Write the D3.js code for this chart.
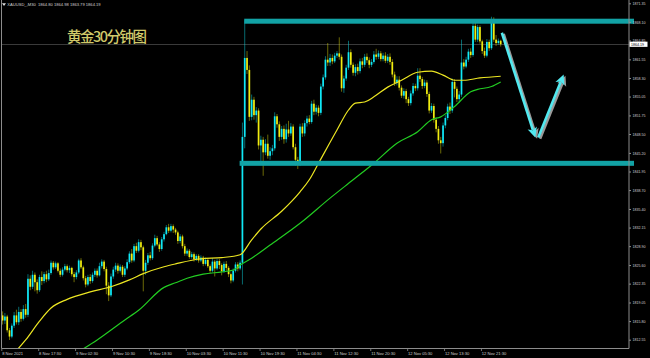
<!DOCTYPE html>
<html><head><meta charset="utf-8">
<script src="https://cdn.jsdelivr.net/npm/d3@7/dist/d3.min.js"></script>
<style>html,body{margin:0;padding:0;background:#000;overflow:hidden}</style>
</head><body><svg id="c" width="650" height="358"></svg>
<script>
// ---- data (XAUUSD M30) ----
const opens=[1816.8,1815.9,1816.6,1814.2,1813.1,1815.0,1816.8,1815.6,1817.4,1816.2,1817.9,1816.9,1823.2,1821.8,1823.9,1822.6,1821.2,1823.5,1822.8,1824.0,
1823.1,1824.2,1826.0,1825.2,1825.9,1824.6,1823.9,1824.8,1825.4,1824.7,1825.1,1824.0,1823.5,1824.3,1826.4,1825.2,1823.3,1822.2,1823.5,1822.8,
1823.9,1824.6,1823.8,1825.4,1826.2,1824.9,1822.0,1820.3,1823.6,1824.8,1825.5,1824.6,1825.3,1823.9,1825.0,1826.1,1827.6,1826.4,1828.9,1828.1,
1829.6,1828.7,1824.6,1826.0,1827.3,1826.8,1829.0,1830.3,1829.2,1828.4,1830.1,1831.0,1832.2,1831.6,1832.4,1831.8,1831.3,1829.8,1830.6,1828.9,
1827.6,1828.1,1827.0,1827.5,1826.6,1827.2,1826.4,1826.9,1825.8,1826.5,1825.4,1824.6,1826.2,1825.0,1826.3,1825.6,1824.5,1825.8,1825.1,1824.0,
1822.9,1824.6,1825.7,1825.0,1826.0,1848.0,1861.8,1859.7,1851.5,1854.5,1851.8,1852.6,1846.5,1847.5,1845.3,1846.8,1844.7,1845.5,1846.0,1851.6,
1850.2,1848.0,1849.4,1847.6,1849.3,1848.6,1849.8,1846.2,1844.0,1843.2,1849.8,1848.6,1850.4,1851.2,1850.6,1853.8,1852.4,1853.1,1852.2,1856.8,
1858.4,1861.5,1861.0,1861.8,1861.2,1862.2,1862.6,1862.0,1856.5,1858.2,1860.1,1862.8,1860.6,1859.2,1860.2,1859.5,1861.2,1860.6,1862.0,1861.4,
1860.6,1861.1,1862.4,1862.0,1862.6,1861.6,1862.2,1861.3,1862.0,1861.1,1858.9,1857.4,1858.0,1856.6,1855.2,1856.0,1854.6,1853.9,1855.6,1856.9,
1856.5,1858.7,1858.1,1856.9,1857.5,1855.5,1852.6,1853.4,1851.0,1849.4,1847.4,1846.9,1850.0,1851.3,1853.3,1852.6,1857.6,1856.4,1854.6,1855.4,
1861.0,1860.3,1861.5,1862.9,1862.3,1867.4,1865.0,1867.2,1864.7,1863.0,1862.2,1864.6,1863.5,1868.6,1865.0,1864.4,1864.80];
const highs=[1817.5,1817.2,1816.9,1814.6,1815.4,1817.4,1817.8,1818.3,1817.9,1818.6,1818.8,1824.0,1823.8,1824.6,1824.3,1823.1,1823.9,1824.5,1824.4,1824.6,
1824.8,1826.4,1826.3,1826.2,1826.1,1825.0,1825.2,1825.8,1825.7,1825.5,1825.3,1824.4,1824.7,1826.7,1826.8,1825.5,1823.7,1823.9,1824.0,1824.3,
1825.0,1825.0,1826.0,1826.6,1826.5,1825.3,1822.6,1824.1,1825.3,1826.0,1825.9,1825.7,1825.6,1825.4,1826.6,1828.0,1828.4,1829.3,1829.5,1830.1,
1830.0,1829.0,1826.5,1827.7,1827.9,1829.4,1830.9,1830.7,1829.6,1830.5,1831.4,1832.6,1832.8,1832.8,1832.7,1832.1,1831.6,1831.0,1830.9,1829.3,
1828.5,1828.4,1827.9,1827.8,1827.5,1827.5,1827.3,1827.2,1826.9,1826.8,1825.7,1826.8,1826.5,1826.7,1826.7,1825.9,1826.2,1826.3,1825.4,1824.3,
1825.0,1826.1,1826.1,1826.4,1850.5,1868.4,1863.0,1860.5,1855.4,1855.0,1853.2,1853.0,1848.2,1848.0,1847.6,1848.4,1846.2,1846.6,1852.3,1852.0,
1850.7,1849.9,1850.0,1850.3,1850.8,1850.4,1850.2,1846.8,1844.5,1850.3,1850.4,1850.9,1851.7,1851.8,1854.3,1854.5,1853.6,1853.5,1857.3,1858.9,
1862.1,1864.4,1862.5,1862.4,1862.7,1863.0,1865.4,1862.4,1858.7,1860.6,1864.8,1863.3,1861.0,1860.7,1860.8,1861.7,1861.8,1862.5,1862.6,1861.9,
1861.6,1863.0,1863.4,1863.1,1863.0,1862.7,1862.8,1862.5,1862.6,1861.6,1859.4,1858.6,1858.6,1857.0,1856.5,1856.4,1855.0,1856.1,1857.4,1857.3,
1860.0,1860.0,1858.5,1858.0,1857.9,1855.9,1853.9,1853.8,1851.4,1849.9,1848.0,1850.5,1851.8,1853.8,1854.0,1858.2,1858.1,1856.8,1856.0,1865.0,
1861.6,1862.0,1863.4,1863.5,1867.9,1868.5,1867.6,1867.5,1865.0,1863.6,1865.1,1865.0,1869.0,1868.9,1865.8,1865.2,1864.98];
const lows=[1815.2,1815.3,1813.8,1812.5,1812.8,1814.6,1815.2,1815.1,1815.7,1815.9,1816.4,1816.5,1821.2,1821.4,1821.0,1820.6,1820.9,1822.1,1822.4,1822.6,
1822.8,1823.9,1824.8,1824.9,1824.3,1823.5,1823.6,1824.5,1824.3,1824.2,1823.6,1822.6,1823.1,1824.0,1824.9,1822.9,1821.7,1821.9,1822.3,1822.5,
1823.5,1823.4,1823.6,1825.0,1824.5,1820.5,1819.3,1820.0,1823.2,1824.4,1824.1,1824.3,1823.5,1823.5,1824.7,1825.8,1826.0,1826.1,1827.7,1827.8,
1828.2,1821.0,1823.9,1825.6,1826.4,1826.5,1828.7,1828.9,1827.9,1828.1,1829.7,1830.8,1831.2,1831.3,1831.2,1830.9,1829.3,1829.4,1828.5,1827.2,
1827.2,1826.7,1826.7,1826.2,1826.3,1826.0,1826.1,1825.4,1825.5,1825.1,1824.2,1824.3,1823.6,1824.7,1824.9,1823.8,1824.2,1824.6,1823.5,1822.4,
1822.6,1824.3,1824.5,1824.7,1822.2,1846.0,1859.0,1850.8,1850.9,1851.0,1850.5,1845.8,1843.5,1841.2,1844.8,1844.2,1844.0,1844.8,1845.6,1849.6,
1847.3,1847.5,1846.8,1847.0,1848.0,1848.2,1845.8,1843.0,1842.4,1842.9,1848.0,1848.1,1849.8,1850.2,1850.3,1851.8,1851.9,1851.6,1851.8,1856.3,
1858.0,1860.4,1860.4,1860.7,1860.9,1861.8,1861.5,1855.9,1855.7,1857.8,1859.7,1860.1,1858.7,1858.6,1858.9,1859.1,1860.0,1860.2,1860.9,1860.0,
1860.2,1860.8,1861.5,1861.6,1861.2,1861.2,1860.9,1860.9,1860.6,1858.4,1856.9,1857.0,1856.1,1854.8,1854.7,1853.9,1853.4,1853.5,1855.2,1856.0,
1856.1,1857.6,1856.4,1856.5,1855.0,1852.1,1852.2,1850.5,1848.8,1846.8,1845.1,1846.3,1849.5,1850.9,1852.0,1852.2,1854.9,1854.1,1854.0,1855.0,
1859.8,1860.0,1861.1,1861.8,1862.0,1864.6,1864.6,1864.3,1862.5,1861.8,1861.9,1863.0,1863.2,1864.6,1863.9,1864.1,1863.79];
const closes=[1815.9,1816.6,1814.2,1813.1,1815.0,1816.8,1815.6,1817.4,1816.2,1817.9,1816.9,1823.2,1821.8,1823.9,1822.6,1821.2,1823.5,1822.8,1824.0,1823.1,
1824.2,1826.0,1825.2,1825.9,1824.6,1823.9,1824.8,1825.4,1824.7,1825.1,1824.0,1823.5,1824.3,1826.4,1825.2,1823.3,1822.2,1823.5,1822.8,1823.9,
1824.6,1823.8,1825.4,1826.2,1824.9,1822.0,1820.3,1823.6,1824.8,1825.5,1824.6,1825.3,1823.9,1825.0,1826.1,1827.6,1826.4,1828.9,1828.1,1829.6,
1828.7,1824.6,1826.0,1827.3,1826.8,1829.0,1830.3,1829.2,1828.4,1830.1,1831.0,1832.2,1831.6,1832.4,1831.8,1831.3,1829.8,1830.6,1828.9,1827.6,
1828.1,1827.0,1827.5,1826.6,1827.2,1826.4,1826.9,1825.8,1826.5,1825.4,1824.6,1826.2,1825.0,1826.3,1825.6,1824.5,1825.8,1825.1,1824.0,1822.9,
1824.6,1825.7,1825.0,1826.0,1848.0,1861.8,1859.7,1851.5,1854.5,1851.8,1852.6,1846.5,1847.5,1845.3,1846.8,1844.7,1845.5,1846.0,1851.6,1850.2,
1848.0,1849.4,1847.6,1849.3,1848.6,1849.8,1846.2,1844.0,1843.2,1849.8,1848.6,1850.4,1851.2,1850.6,1853.8,1852.4,1853.1,1852.2,1856.8,1858.4,
1861.5,1861.0,1861.8,1861.2,1862.2,1862.6,1862.0,1856.5,1858.2,1860.1,1862.8,1860.6,1859.2,1860.2,1859.5,1861.2,1860.6,1862.0,1861.4,1860.6,
1861.1,1862.4,1862.0,1862.6,1861.6,1862.2,1861.3,1862.0,1861.1,1858.9,1857.4,1858.0,1856.6,1855.2,1856.0,1854.6,1853.9,1855.6,1856.9,1856.5,
1858.7,1858.1,1856.9,1857.5,1855.5,1852.6,1853.4,1851.0,1849.4,1847.4,1846.9,1850.0,1851.3,1853.3,1852.6,1857.6,1856.4,1854.6,1855.4,1861.0,
1860.3,1861.5,1862.9,1862.3,1867.4,1865.0,1867.2,1864.7,1863.0,1862.2,1864.6,1863.5,1868.6,1865.0,1864.4,1864.8,1864.19];

const timeLabels=["8 Nov 2021","8 Nov 17:30","9 Nov 02:30","9 Nov 10:30","9 Nov 18:30","10 Nov 03:30","10 Nov 11:30",
"10 Nov 19:30","11 Nov 04:30","11 Nov 12:30","11 Nov 20:30","12 Nov 05:30","12 Nov 13:30","12 Nov 21:30"];
const timeLabelBars=[0,16,32,48,64,80,96,112,128,144,160,176,192,208];
const priceTicks=[1871.35,1868.10,1864.85,1861.55,1858.30,1855.05,1851.75,1848.50,1845.20,1841.95,1838.70,1835.40,1832.15,1828.90,1825.60,1822.35,1819.05,1815.80,1812.55];

// moving averages
const maFastBars=[5,10,16,21,28,38,47,55,61,70,75,86,95,103,108,112,121,129,133,137,145,150,153,157,161,167,173,180,186,191,196,200,207,216];
const maFastVals=[1810.2,1812.5,1815.8,1818.1,1819.6,1820.9,1821.8,1823.0,1824.1,1825.3,1825.8,1826.7,1826.9,1827.4,1830.0,1831.9,1835.0,1838.4,1840.5,1843.4,1849.2,1852.7,1853.9,1854.1,1855.0,1856.7,1857.9,1859.3,1859.5,1858.8,1857.9,1857.9,1858.3,1858.6];
const maSlowBars=[35,41,53,59,70,75,80,87,95,100,103,108,116,129,142,152,161,171,180,186,190,196,203,206,212,216];
const maSlowVals=[1810.95,1812.5,1816.0,1817.7,1821.7,1822.5,1823.3,1824.0,1824.4,1824.7,1825.6,1826.8,1829.1,1832.9,1837.3,1840.5,1843.4,1846.9,1848.9,1851.0,1851.5,1853.3,1855.9,1856.3,1856.8,1857.6];

// drawn objects
const levelPrices=[1868.22,1843.38];
const levelStartBars=[105,103];
const arrowBars=[[216.5,231.0],[232.3,243.3]];
const arrowPrices=[[1866.2,1847.9],[1847.9,1858.9]];
const titleText="黄金30分钟图";
const headerText="XAUUSD_,M30  1864.80 1864.98 1863.79 1864.19";
const lastPrice=1864.19;

// ---- drawing ----
const svg=d3.select("#c");
const W=650,H=358, plotRight=629, plotBottom=348.5;
svg.append("rect").attr("width",W).attr("height",H).attr("fill","#000");

const x=d3.scaleLinear().domain([0,270]).range([2.6,2.6+270*2.306]);
const y=d3.scaleLinear().domain([1812.55,1871.35]).range([339.7,3.3]);

svg.append("clipPath").attr("id","pc").append("rect").attr("x",1.5).attr("y",0).attr("width",plotRight-1.5).attr("height",plotBottom);
const plot=svg.append("g").attr("clip-path","url(#pc)");

// bid line
plot.append("line").attr("x1",0).attr("x2",plotRight).attr("y1",Math.round(y(lastPrice))+0.5).attr("y2",Math.round(y(lastPrice))+0.5)
  .attr("stroke","#3a3a3a").attr("stroke-width",1);

const bars=d3.range(closes.length).map(i=>({i,o:opens[i],h:highs[i],l:lows[i],c:closes[i]}));
const upC="#10e8f6", dnC="#f0ec10";
plot.selectAll("line.wick").data(bars).join("line").attr("class","wick")
  .attr("x1",d=>x(d.i)).attr("x2",d=>x(d.i)).attr("y1",d=>y(d.h)).attr("y2",d=>y(d.l))
  .attr("stroke",d=>d.c>=d.o?upC:dnC).attr("stroke-width",0.9).attr("stroke-opacity",0.5);
plot.selectAll("rect.body").data(bars).join("rect").attr("class","body")
  .attr("x",d=>x(d.i)-0.85).attr("width",1.7)
  .attr("y",d=>y(Math.max(d.o,d.c))).attr("height",d=>Math.max(0.8,Math.abs(y(d.o)-y(d.c))))
  .attr("fill",d=>d.c>=d.o?upC:dnC);

// moving averages
const line=d3.line().x(d=>x(d[0])).y(d=>y(d[1])).curve(d3.curveMonotoneX);
plot.append("path").attr("d",line(maFastBars.map((b,k)=>[b,maFastVals[k]]))).attr("fill","none").attr("stroke","#ece622").attr("stroke-width",1.2);
plot.append("path").attr("d",line(maSlowBars.map((b,k)=>[b,maSlowVals[k]]))).attr("fill","none").attr("stroke","#22cc22").attr("stroke-width",1.2);

// horizontal levels
svg.selectAll("rect.lvl").data(levelPrices).join("rect").attr("class","lvl")
  .attr("x",(d,k)=>x(levelStartBars[k])-0.5).attr("width",(d,k)=>634-x(levelStartBars[k])+0.5)
  .attr("y",d=>y(d)-2.5).attr("height",5).attr("fill","#12a2a5");

// frame
svg.append("path").attr("d",`M1.5,0V${plotBottom}H${plotRight}V0`).attr("fill","none").attr("stroke","#8c8c8c").attr("stroke-width",1);

// price axis
const yAxis=svg.append("g").attr("transform",`translate(${plotRight},0)`)
  .call(d3.axisRight(y).tickValues(priceTicks).tickFormat(d=>d.toFixed(2)).tickSize(2).tickPadding(1.5));
yAxis.select(".domain").remove();
yAxis.selectAll(".tick line").attr("stroke","#8c8c8c");
yAxis.selectAll(".tick text").attr("fill","#cfcfcf").attr("font-size",3.6).attr("font-family","Liberation Sans, Arial, sans-serif");

// time axis
const tg=svg.append("g");
tg.selectAll("line").data(timeLabelBars).join("line")
  .attr("x1",d=>x(d)-0.8).attr("x2",d=>x(d)-0.8).attr("y1",plotBottom).attr("y2",plotBottom+2.5).attr("stroke","#8c8c8c").attr("stroke-width",0.8);
tg.selectAll("text").data(timeLabelBars).join("text")
  .attr("x",d=>x(d)-0.4).attr("y",355.3).text((d,k)=>timeLabels[k])
  .attr("fill","#cfcfcf").attr("font-size",4.1).attr("font-family","Liberation Sans, Arial, sans-serif");

// current price box
const lp=y(lastPrice);
svg.append("rect").attr("x",plotRight+0.5).attr("y",lp-2.6).attr("width",18).attr("height",5.2).attr("fill","#fff");
svg.append("text").attr("x",plotRight+2).attr("y",lp+1.3).text(lastPrice.toFixed(2)).attr("fill","#000").attr("font-size",3.6).attr("font-family","Liberation Sans, Arial, sans-serif");

// header
svg.append("path").attr("d","M2,3.3L6,3.3L4,6Z").attr("fill","#ddd");
svg.append("text").attr("x",7.3).attr("y",6.3).text(headerText).attr("fill","#d0d0d0").attr("font-size",4.1).attr("font-family","Liberation Sans, Arial, sans-serif").attr("xml:space","preserve");

// title
svg.append("text").attr("x",67).attr("y",42.2).text(titleText).attr("fill","#d0c96a").attr("font-size",14.5).attr("font-weight",500)
  .attr("font-family","'Noto Sans CJK SC', sans-serif").attr("textLength",80).attr("lengthAdjust","spacing");

// arrows
function drawArrow(g,p0,p1,color,w){
  const dx=p1[0]-p0[0], dy=p1[1]-p0[1], L=Math.hypot(dx,dy), ux=dx/L, uy=dy/L, nx=-uy, ny=ux;
  const hl=10, hw=4.8;
  const bx=p1[0]-ux*hl, by=p1[1]-uy*hl;
  g.append("line").attr("x1",p0[0]).attr("y1",p0[1]).attr("x2",bx+ux*2).attr("y2",by+uy*2).attr("stroke",color).attr("stroke-width",w);
  g.append("path").attr("d",`M${p1[0]},${p1[1]}L${bx+nx*hw},${by+ny*hw}L${bx+ux*2.5},${by+uy*2.5}L${bx-nx*hw},${by-ny*hw}Z`).attr("fill",color);
}
const ag=svg.append("g");
arrowBars.forEach((b,k)=>{
  const p0=[x(b[0]),y(arrowPrices[k][0])], p1=[x(b[1]),y(arrowPrices[k][1])];
  drawArrow(ag,[p0[0]+1.8,p0[1]+1.2],[p1[0]+1.8,p1[1]+1.2],"#9a9a9a",2.6);
});
arrowBars.forEach((b,k)=>{
  const p0=[x(b[0]),y(arrowPrices[k][0])], p1=[x(b[1]),y(arrowPrices[k][1])];
  drawArrow(ag,p0,p1,"#52e9f0",2.6);
});
</script></body></html>
